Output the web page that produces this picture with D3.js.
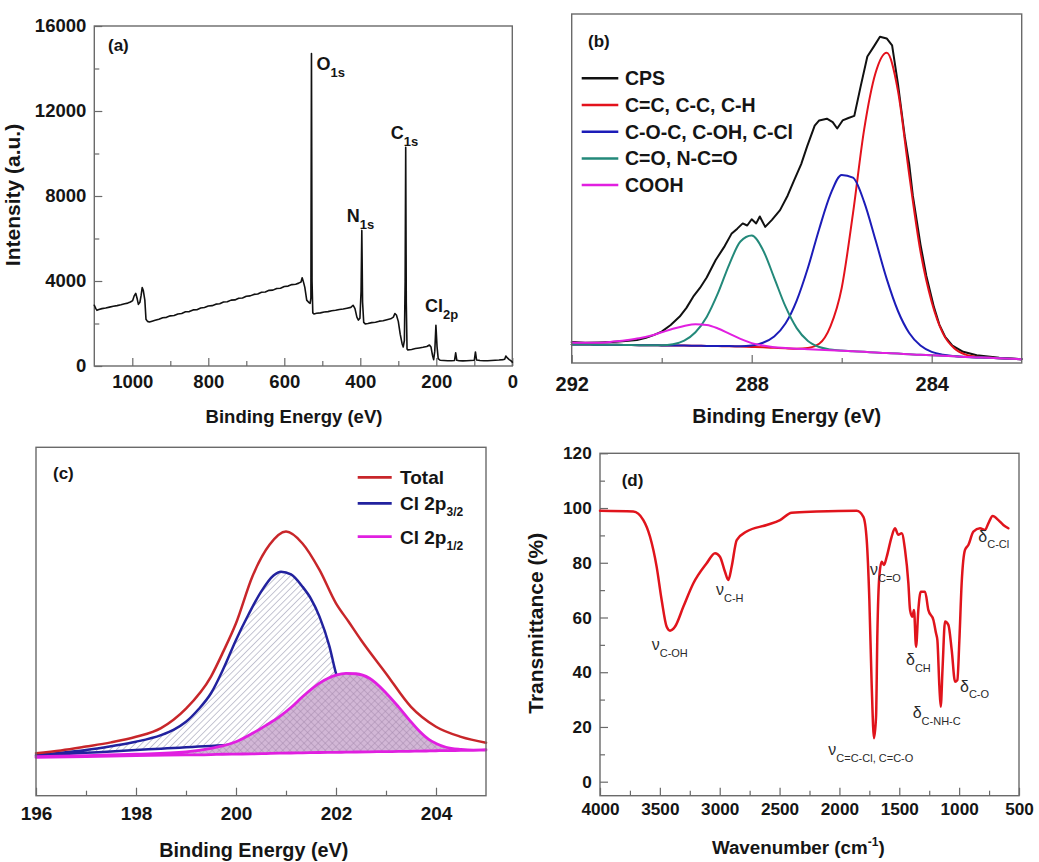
<!DOCTYPE html>
<html lang="en">
<head>
<meta charset="UTF-8">
<title>XPS and FTIR spectra</title>
<script src="https://d3js.org/d3.v7.min.js"></script>
<style>
  body { margin: 0; padding: 0; background: #fff; }
  svg { display: block; }
  .frame { fill: none; stroke: #6a6a6a; stroke-width: 1.4px; }
  .axis path { display: none; }
  .axis line { stroke: #6a6a6a; stroke-width: 1.2px; }
  .axis text, .lbl { fill: #151515; font-weight: bold; font-family: Arial, "Liberation Sans", sans-serif; }
  .note { fill: #2a2a2a; font-family: Arial, "Liberation Sans", sans-serif; }
  .spec { fill: none; stroke-linejoin: round; stroke-linecap: round; }
</style>
</head>
<body>
<svg width="1039" height="862"></svg>
<script>
// ---- (a) XPS survey ----
const surveyE = [1100,1096,1093,1088,1080,1070,1060,1050,1040,1030,1020,1012,1005,999,995,991,987,984,980,977,974,971,967,964,960,955,948,940,930,920,910,900,890,880,870,860,850,840,830,820,810,800,790,780,770,760,750,740,730,720,710,700,690,680,670,660,650,640,630,620,610,600,590,580,570,562,556,553,550,546,541,536,532,530,528.5,527,525,522,515,505,495,485,475,465,455,445,435,425,419,414,409,405,401,398,396,394,391,387,380,370,360,350,340,330,320,313,309,305,300,295,290,287,284,282,280.5,279,277,275,265,255,245,235,225,218,214,210,207,204,201,198,195,190,180,170,160,152,149,146,140,130,120,110,100,97,94,85,75,65,55,45,35,25,20,17,13,8,4,0];
const surveyI = [2860,2700,2620,2660,2700,2730,2770,2810,2840,2880,2930,2960,3010,3080,3300,3420,3150,2900,3000,3300,3690,3550,3100,2200,2100,2070,2110,2150,2200,2270,2290,2360,2380,2450,2470,2550,2560,2640,2650,2730,2750,2820,2840,2910,2930,3010,3020,3100,3110,3190,3200,3280,3300,3370,3390,3470,3480,3560,3570,3650,3660,3740,3760,3830,3850,3900,3950,4150,3980,3700,3100,3000,2950,3200,14700,4000,2500,2450,2480,2500,2540,2560,2600,2620,2660,2680,2720,2760,2860,2700,2300,2160,2250,3500,6380,3000,2050,1980,2000,2040,2060,2110,2130,2180,2220,2300,2470,2400,2100,1500,1050,900,1200,4000,10290,3000,800,760,780,820,850,880,920,990,900,500,300,700,1920,900,350,270,260,250,250,260,620,270,250,240,250,260,270,660,280,260,250,250,260,270,280,300,320,470,380,300,250,180];
const surveyPeaks = [
  {main: "O", sub: "1s", e: 528.5, i: 14700},
  {main: "N", sub: "1s", e: 396, i: 6380},
  {main: "C", sub: "1s", e: 280.5, i: 10290},
  {main: "Cl", sub: "2p", e: 201, i: 1920}
];

// ---- (b) C1s high resolution ----
const fitE = [292,291.75,291.5,291.25,291,290.75,290.5,290.25,290,289.75,289.5,289.25,289,288.75,288.5,288.25,288,287.75,287.5,287.25,287,286.75,286.5,286.25,286,285.75,285.5,285.25,285,284.75,284.5,284.25,284,283.75,283.5,283.25,283,282.75,282.5,282.25,282];
const fitCC = [5.3,5.3,5.25,5.2,5.2,5.15,5.1,5.1,5.05,5.0,5.0,4.95,4.9,4.85,4.8,4.7,4.6,4.5,4.35,4.2,4.1,4.3,5.5,10.5,21.5,42.8,67.0,83.0,88.9,78.0,54.0,32.0,17.5,8.5,4.2,2.4,1.8,1.55,1.35,1.25,1.1];
const fitCO = [5.3,5.3,5.25,5.2,5.2,5.15,5.1,5.1,5.05,5.0,5.0,4.95,4.9,4.85,4.85,4.8,5.0,5.8,7.6,11.3,17.9,27.3,38.4,48.3,53.9,53.1,46.1,35.3,24.1,14.9,8.6,5.0,3.2,2.4,2.0,1.75,1.6,1.5,1.35,1.25,1.1];
const fitCdO = [5.3,5.3,5.25,5.2,5.2,5.15,5.1,5.1,5.1,5.4,6.4,8.8,13.2,20.0,28.2,34.8,36.5,32.4,24.4,16.2,10.0,6.3,4.6,3.9,3.55,3.35,3.2,3.0,2.85,2.7,2.5,2.35,2.2,2.05,1.9,1.75,1.6,1.5,1.35,1.25,1.1];
const fitCOOH = [5.9,5.8,5.8,5.9,6.2,6.6,7.1,7.8,8.8,9.8,10.6,11.1,10.9,9.9,8.4,6.9,5.7,5.0,4.5,4.3,4.1,3.95,3.8,3.65,3.5,3.35,3.2,3.0,2.85,2.7,2.5,2.35,2.2,2.05,1.9,1.75,1.6,1.5,1.35,1.25,1.1];
const cpsE = [292,291.7,291.4,291.1,290.8,290.55,290.35,290.18,290,289.8,289.6,289.45,289.3,289.15,289,288.8,288.6,288.45,288.32,288.2,288.1,288,287.9,287.82,287.7,287.55,287.37,287.2,287.07,286.9,286.77,286.6,286.5,286.33,286.2,286.1,285.98,285.85,285.72,285.58,285.43,285.28,285.15,285,284.88,284.75,284.6,284.5,284.42,284.25,284.12,283.95,283.83,283.7,283.54,283.3,283,282.5,282];
const cpsV = [6.0,5.8,5.9,6.0,6.3,6.6,7.2,8.0,9.0,10.9,13.3,15.8,19.0,21.5,24.5,29.5,33.5,37.0,38.5,40.0,39.4,41.2,40.0,42.0,39.0,41.0,43.8,48.0,52.0,57.0,62.0,68.0,69.5,70.0,69.0,67.2,69.5,70.2,70.8,79.2,87.8,90.8,93.5,93.0,91.0,80.0,65.0,57.0,48.0,34.0,25.0,16.0,11.0,7.5,5.0,3.2,2.2,1.5,1.1];
const c1sNames = ["CPS", "C=C, C-C, C-H", "C-O-C, C-OH, C-Cl", "C=O, N-C=O", "COOH"];
const c1sColors = ["#111111", "#e3121c", "#1c1cb8", "#23897a", "#e11fe0"];

// ---- (c) Cl 2p ----
const p32E = [196,196.5,197,197.5,198,198.5,198.75,199,199.25,199.5,199.75,200,200.25,200.5,200.75,200.9,201.1,201.33,201.5,201.67,201.87,202,202.25,202.5,203];
const p32V = [11.7,12.3,13.1,14.2,15.5,17.4,18.9,21.2,24.8,29.4,36.5,44.7,52.0,58.5,63.2,64.3,63.5,60.0,56.5,51.4,42.8,35.1,28.0,23.0,17.5];
const p32Base = [11.5,11.9,12.3,12.7,13.1,13.5,13.7,13.9,14.1,14.3,14.5,14.7,14.8,15.0,15.2,15.3,15.4,15.5,15.6,15.7,15.8,15.9,16.0,16.1,16.3];
const p12E = [196,197,198,199,199.5,199.73,200,200.33,200.6,200.87,201.1,201.33,201.67,202,202.2,202.4,202.67,203,203.25,203.47,203.67,203.87,204,204.2,204.5,204.75,205];
const p12V = [11.2,11.5,11.9,12.6,13.6,14.3,15.5,17.9,20.2,22.7,25.3,28.4,32.3,34.6,35.1,35.0,33.7,29.5,25.5,21.7,18.5,16.0,15.0,13.9,13.3,13.1,13.2];
const p12Base = [11.0,11.2,11.5,11.7,11.8,11.9,11.95,12.0,12.1,12.2,12.25,12.3,12.4,12.45,12.5,12.55,12.6,12.65,12.7,12.75,12.8,12.85,12.9,12.95,13.0,13.05,13.1];
const totE = [196,196.5,197,197.5,198,198.5,198.75,199,199.5,199.75,200,200.33,200.67,201,201.33,201.67,202,202.25,202.5,203,203.5,204,204.5,205];
const totV = [12.2,13.0,14.1,15.3,16.9,19.4,21.8,25.0,34.2,41.5,49.5,63.0,72.0,75.8,72.4,64.8,55.2,50.0,44.7,35.1,25.5,19.8,16.9,15.2];
const cl2pNames = [["Total", ""], ["Cl 2p", "3/2"], ["Cl 2p", "1/2"]];
const cl2pColors = ["#c8262a", "#22229e", "#e01fe0"];

// ---- (d) FTIR ----
const irWn = [4000,3722,3638,3582,3527,3485,3443,3415,3374,3304,3220,3109,3039,2998,2956,2928,2900,2858,2775,2608,2496,2399,2190,1856,1800,1772,1750,1731,1711,1694,1683,1667,1647,1628,1605,1564,1536,1508,1480,1452,1424,1410,1391,1377,1360,1341,1321,1285,1257,1215,1193,1182,1165,1154,1138,1118,1090,1062,1034,1015,998,979,951,923,881,826,784,756,720,672,631,589];
const irT = [99.0,98.7,95.6,89.5,78.6,66.4,56.6,55.2,56.6,63.9,72.5,79.8,83.5,82.2,76.7,73.7,78.6,88.3,91.4,93.8,95.6,98.3,98.7,99.0,96.8,88.3,66.4,36.0,15.9,23.8,54.2,74.9,80.4,79.2,82.2,89.5,92.6,90.2,90.8,84.7,72.5,62.7,60.3,62.7,49.3,62.7,69.4,69.4,62.7,59.1,54.2,51.8,34.7,27.4,42.0,58.5,57.3,48.1,36.5,37.1,51.8,72.5,84.7,86.5,91.4,92.6,92.0,94.4,97.1,95.6,93.8,92.6];
const irBands = [
  {sym: "ν", sub: "C-OH", x: 651.7, y: 650},
  {sym: "ν", sub: "C-H", x: 716, y: 595},
  {sym: "ν", sub: "C=O", x: 870, y: 575},
  {sym: "δ", sub: "CH", x: 906, y: 665},
  {sym: "δ", sub: "C-O", x: 960, y: 691.7},
  {sym: "δ", sub: "C-NH-C", x: 912.7, y: 718.3},
  {sym: "ν", sub: "C=C-Cl, C=C-O", x: 828.3, y: 755},
  {sym: "δ", sub: "C-Cl", x: 978.3, y: 541.7}
];

const svg = d3.select("svg");
const fmt = d3.format("d");

function makePanel(box, xDom, yDom) {
  return {
    box: box,
    x: d3.scaleLinear().domain(xDom).range([box.left, box.right]),
    y: d3.scaleLinear().domain(yDom).range([box.bottom, box.top])
  };
}

function drawAxes(p, o) {
  const g = svg.append("g");
  const bx = g.append("g").attr("class", "axis").attr("transform", `translate(0,${p.box.bottom})`)
    .call(d3.axisBottom(p.x).tickValues(o.xMajor).tickSize(-8).tickPadding(o.xPad).tickFormat(fmt));
  bx.selectAll("text").style("font-size", o.fs + "px");
  g.append("g").attr("class", "axis").attr("transform", `translate(0,${p.box.bottom})`)
    .call(d3.axisBottom(p.x).tickValues(o.xMinor).tickSize(-5).tickFormat(""));
  if (o.yMajor) {
    const ly = g.append("g").attr("class", "axis").attr("transform", `translate(${p.box.left},0)`)
      .call(d3.axisLeft(p.y).tickValues(o.yMajor).tickSize(-8).tickPadding(o.yPad).tickFormat(fmt));
    ly.selectAll("text").style("font-size", o.fs + "px");
    g.append("g").attr("class", "axis").attr("transform", `translate(${p.box.left},0)`)
      .call(d3.axisLeft(p.y).tickValues(o.yMinor).tickSize(-5).tickFormat(""));
  }
  g.append("rect").attr("class", "frame")
    .attr("x", p.box.left).attr("y", p.box.top)
    .attr("width", p.box.right - p.box.left).attr("height", p.box.bottom - p.box.top);
}

function subText(x, y, main, sub, fs, subFs, dy, cls) {
  const t = svg.append("text").attr("class", cls || "lbl").attr("x", x).attr("y", y).style("font-size", fs + "px");
  t.append("tspan").text(main);
  if (sub) t.append("tspan").attr("dy", dy).style("font-size", subFs + "px").text(sub);
  return t;
}

function title(x, y, txt, fs, rot) {
  const t = svg.append("text").attr("class", "lbl").attr("text-anchor", "middle").style("font-size", fs + "px");
  if (rot) t.attr("transform", `translate(${x},${y}) rotate(-90)`);
  else t.attr("x", x).attr("y", y);
  t.text(txt);
  return t;
}

function drawLine(p, xs, ys, color, w, curve) {
  const line = d3.line().x(d => p.x(d[0])).y(d => p.y(d[1])).curve(curve || d3.curveLinear);
  svg.append("path").attr("class", "spec")
    .attr("d", line(xs.map((v, i) => [v, ys[i]])))
    .attr("stroke", color).attr("stroke-width", w);
}

// ================= panel (a) =================
const pa = makePanel({left: 94.3, right: 512.3, top: 26, bottom: 366}, [1100, 0], [0, 16000]);
drawAxes(pa, {
  xMajor: [1000, 800, 600, 400, 200, 0], xMinor: [900, 700, 500, 300, 100], xPad: 9,
  yMajor: [0, 4000, 8000, 12000, 16000], yMinor: [2000, 6000, 10000, 14000], yPad: 8, fs: 18.5
});
drawLine(pa, surveyE, surveyI, "#111", 1.6);
const peakOffsets = [[-11, -4], [-15, -5], [-15, -5], [-11, -10]];
surveyPeaks.forEach((pk, i) => {
  const x = pa.x(pk.e) + (i === 0 ? 5 : peakOffsets[i][0]);
  const y = i === 0 ? 70 : pa.y(pk.i) + peakOffsets[i][1] - 3;
  subText(x, y, pk.main, pk.sub, 18, 13, 6.5);
});
svg.append("text").attr("class", "lbl").attr("x", 108).attr("y", 51).style("font-size", "17px").text("(a)");
title(294, 423, "Binding Energy (eV)", 18.5);
title(20, 195, "Intensity (a.u.)", 21, true);

// ================= panel (b) =================
const pb = makePanel({left: 571.7, right: 1021.7, top: 14, bottom: 363}, [292, 282], [0, 100]);
drawLine(pb, cpsE, cpsV, c1sColors[0], 2);
[fitCC, fitCO, fitCdO, fitCOOH].forEach((s, i) => drawLine(pb, fitE, s, c1sColors[i + 1], 2, d3.curveMonotoneX));
drawAxes(pb, {xMajor: [292, 288, 284], xMinor: [290, 286], xPad: 13.5, fs: 20});
c1sNames.forEach((n, i) => {
  const y = 78.3 + i * 26.7;
  svg.append("line").attr("x1", 581.7).attr("x2", 618.3).attr("y1", y).attr("y2", y)
    .attr("stroke", c1sColors[i]).attr("stroke-width", 2.5);
  svg.append("text").attr("class", "lbl").attr("x", 625).attr("y", y).attr("dy", "0.36em")
    .style("font-size", "19.5px").text(n);
});
svg.append("text").attr("class", "lbl").attr("x", 588).attr("y", 47).style("font-size", "17px").text("(b)");
title(786.7, 423, "Binding Energy (eV)", 19.8);

// ================= panel (c) =================
const pc = makePanel({left: 36, right: 486, top: 447.3, bottom: 795.7}, [196, 205], [0, 100]);
const defs = svg.append("defs");
const hb = defs.append("pattern").attr("id", "hatchBlue").attr("patternUnits", "userSpaceOnUse")
  .attr("width", 4.5).attr("height", 4.5).attr("patternTransform", "rotate(45)");
hb.append("rect").attr("width", 4.5).attr("height", 4.5).attr("fill", "#fff");
hb.append("line").attr("x1", 0).attr("y1", 0).attr("x2", 0).attr("y2", 4.5).attr("stroke", "#8e8ea8").attr("stroke-width", 1);
const hm = defs.append("pattern").attr("id", "hatchMag").attr("patternUnits", "userSpaceOnUse")
  .attr("width", 5).attr("height", 5).attr("patternTransform", "rotate(45)");
hm.append("rect").attr("width", 5).attr("height", 5).attr("fill", "#d2b7d6");
hm.append("line").attr("x1", 0).attr("y1", 0).attr("x2", 0).attr("y2", 5).attr("stroke", "#a287ab").attr("stroke-width", 0.9);
hm.append("line").attr("x1", 0).attr("y1", 0).attr("x2", 5).attr("y2", 0).attr("stroke", "#a287ab").attr("stroke-width", 0.9);

const areaC = d3.area().x(d => pc.x(d[0])).y0(d => pc.y(d[2])).y1(d => pc.y(d[1])).curve(d3.curveMonotoneX);
svg.append("path").attr("d", areaC(p32E.map((e, i) => [e, p32V[i], p32Base[i]])))
  .attr("fill", "url(#hatchBlue)").attr("stroke", cl2pColors[1]).attr("stroke-width", 2.5).attr("stroke-linejoin", "round");
svg.append("path").attr("d", areaC(p12E.map((e, i) => [e, p12V[i], p12Base[i]])))
  .attr("fill", "url(#hatchMag)").attr("stroke", cl2pColors[2]).attr("stroke-width", 2.8).attr("stroke-linejoin", "round");
drawLine(pc, totE, totV, cl2pColors[0], 2.5, d3.curveMonotoneX);
drawAxes(pc, {xMajor: [196, 198, 200, 202, 204], xMinor: [197, 199, 201, 203], xPad: 11, fs: 19});
const legY = [477.3, 503.3, 536.7];
cl2pNames.forEach((n, i) => {
  svg.append("line").attr("x1", 357.7).attr("x2", 391.7).attr("y1", legY[i]).attr("y2", legY[i])
    .attr("stroke", cl2pColors[i]).attr("stroke-width", 2.8);
  subText(400, legY[i] + 6.8, n[0], n[1], 19, 12, 6);
});
svg.append("text").attr("class", "lbl").attr("x", 53).attr("y", 479).style("font-size", "17px").text("(c)");
title(253.8, 857, "Binding Energy (eV)", 19.8);

// ================= panel (d) =================
const pd = makePanel({left: 600, right: 1019, top: 453.3, bottom: 795.7}, [4000, 500], [-5.12, 120]);
drawAxes(pd, {
  xMajor: [4000, 3500, 3000, 2500, 2000, 1500, 1000, 500], xMinor: [3750, 3250, 2750, 2250, 1750, 1250, 750], xPad: 7.6,
  yMajor: [0, 20, 40, 60, 80, 100, 120], yMinor: [10, 30, 50, 70, 90, 110], yPad: 8.3, fs: 17.2
});
drawLine(pd, irWn, irT, "#e0141c", 2.5, d3.curveMonotoneX);
irBands.forEach(b => subText(b.x, b.y, b.sym, b.sub, 16, 11, 6.5, "note"));
svg.append("text").attr("class", "lbl").attr("x", 621.7).attr("y", 486).style("font-size", "17px").text("(d)");
const wt = title(798.3, 854.3, "", 18.8);
wt.append("tspan").text("Wavenumber (cm");
wt.append("tspan").attr("dy", -8).style("font-size", "12px").text("-1");
wt.append("tspan").attr("dy", 8).text(")");
title(543.3, 623.3, "Transmittance (%)", 21, true);
</script>
</body>
</html>
